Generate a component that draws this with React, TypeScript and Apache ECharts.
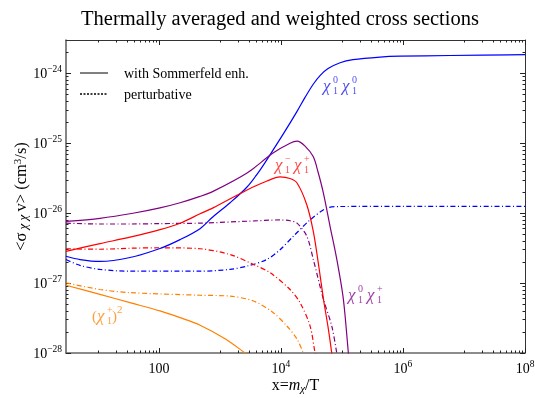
import React, { useEffect, useRef } from "react";
import * as echarts from "echarts";

// axis ranges (data space)
const X_MIN = 3;
const X_MAX = 1e8;
const Y_MIN = 1e-28;
const Y_MAX = 3e-24;

// tick labels
const xMajorTicks = [100, 1e4, 1e6, 1e8];
const yMajorTicks = [1e-28, 1e-27, 1e-26, 1e-25, 1e-24];

// with Sommerfeld enhancement (solid)
const chi0chi0Somm: [number, number][] = [
  [3, 2.42e-27], [5.1, 2.17e-27], [10.8, 2.04e-27], [33.6, 2.32e-27], [104, 3.12e-27], [222, 4.18e-27],
  [472, 6.0e-27], [771, 8.9e-27], [1466, 1.41e-26], [2782, 2.37e-26], [4540, 4.14e-26], [7413, 7.98e-26],
  [11670, 1.49e-25], [18360, 2.86e-25], [24830, 4.53e-25], [33570, 6.93e-25], [43700, 9.3e-25],
  [59200, 1.17e-24], [93100, 1.42e-24], [152000, 1.57e-24], [421000, 1.71e-24], [895000, 1.76e-24],
  [5.9e6, 1.8e-24], [1e8, 1.85e-24],
];
const chi0chiPSomm: [number, number][] = [
  [3, 7.62e-27], [10.8, 8.45e-27], [37.6, 9.97e-27], [104, 1.19e-26], [222, 1.41e-26], [472, 1.74e-26],
  [771, 2.05e-26], [2782, 3.76e-26], [7413, 7.23e-26], [14090, 1.0e-25], [18360, 1.07e-25],
  [24830, 9.1e-26], [33960, 6.4e-26], [40560, 3.88e-26], [49540, 1.95e-26], [63800, 6.5e-27],
  [82200, 2.2e-27], [105400, 5.9e-28], [127400, 1e-28], [135000, 6e-29],
];
const chiMchiPSomm: [number, number][] = [
  [3, 2.85e-27], [10.8, 3.67e-27], [33.6, 4.54e-27], [104, 5.81e-27], [222, 7.18e-27], [472, 9.79e-27],
  [771, 1.19e-26], [2782, 2.15e-26], [5920, 2.89e-26], [9660, 3.3e-26], [14090, 3.13e-26],
  [18360, 2.7e-26], [26500, 1.32e-26], [33960, 5.43e-27], [41980, 1.67e-27], [49540, 6.05e-28],
  [59200, 2.34e-28], [68000, 1e-28], [77000, 4.3e-29],
];
const chiPchiPSomm: [number, number][] = [
  [3, 9.3e-28], [10.8, 6.9e-28], [33.6, 5.25e-28], [104, 4.0e-28], [222, 3.2e-28], [472, 2.5e-28],
  [1213, 1.6e-28], [2580, 1e-28], [3000, 9e-29],
];

// perturbative (dot-dashed)
const chi0chi0Pert: [number, number][] = [
  [3, 2.17e-27], [5.1, 1.79e-27], [10.8, 1.57e-27], [33.6, 1.48e-27], [472, 1.48e-27], [1466, 1.57e-27],
  [2782, 1.75e-27], [5850, 2.17e-27], [9660, 3.0e-27], [15950, 4.67e-27], [30000, 8.0e-27],
  [56400, 1.18e-26], [93100, 1.245e-26], [1e6, 1.25e-26], [1e8, 1.25e-26],
];
const chi0chiPPert: [number, number][] = [
  [3, 7.2e-27], [10.8, 7.0e-27], [33.6, 7.0e-27], [104, 7.1e-27], [472, 7.2e-27], [3100, 7.7e-27],
  [9660, 8.0e-27], [14090, 7.8e-27], [18360, 7.2e-27], [26500, 4.7e-27], [33960, 2.17e-27],
  [49540, 5.9e-28], [68000, 2.44e-28], [82200, 1e-28], [88000, 7e-29],
];
const chiMchiPPert: [number, number][] = [
  [3, 3.1e-27], [10.8, 3.05e-27], [33.6, 3.15e-27], [104, 3.2e-27], [472, 3.1e-27], [1466, 2.56e-27],
  [3530, 1.85e-27], [6620, 1.41e-27], [14100, 8.1e-28], [20550, 5.25e-28], [30000, 2.44e-28],
  [36200, 1e-28], [38000, 8e-29],
];
const chiPchiPPert: [number, number][] = [
  [3, 1.01e-27], [10.8, 8.1e-28], [33.6, 7.3e-28], [472, 6.7e-28], [1466, 6.5e-28], [3530, 5.55e-28],
  [7413, 3.8e-28], [12450, 2.44e-28], [18360, 1.58e-28], [23300, 1e-28], [25000, 9e-29],
];

// curve label anchors (data space, left/middle of label)
const labelChi0Chi0: [number, number] = [49000, 6.8e-25];
const labelChiMChiP: [number, number] = [8000, 5.0e-26];
const labelChi0ChiP: [number, number] = [126000, 6.8e-28];
const labelChiPSq: [number, number] = [8, 3.4e-28];

const BLUE = "#0000ff";
const RED = "#ff0000";
const PURPLE = "#800080";
const ORANGE = "#ff8000";
const FONT = '"Liberation Serif", "DejaVu Serif", serif';

const lg = (v: number) => Math.log10(v);

export default function App() {
  const ref = useRef<HTMLDivElement>(null);
  useEffect(() => {
    if (!ref.current) return;
    const chart = echarts.init(ref.current, undefined, { renderer: "svg" });

    const xLo = lg(X_MIN), xHi = lg(X_MAX), yLo = lg(Y_MIN), yHi = lg(Y_MAX);
    const xMinor: number[] = [];
    [1, 3, 5, 7].forEach((k) => {
      for (let j = 1; j <= 9; j++) {
        const v = k + Math.log10(j);
        if (v > xLo && v < xHi) xMinor.push(v);
      }
    });
    const yMinor: number[] = [];
    for (let n = -28; n <= -24; n++) {
      for (let j = 2; j <= 9; j++) {
        const v = n + Math.log10(j);
        if (v < yHi) yMinor.push(v);
      }
    }
    const xMaj = xMajorTicks.map(lg);
    const yMaj = yMajorTicks.map(lg);

    const rich = {
      b: { fontSize: 14, fontFamily: FONT, color: "#000", lineHeight: 18 },
      s: { fontSize: 9.5, fontFamily: FONT, color: "#000", verticalAlign: "top", lineHeight: 10 },
    };

    const mkX = (pos: "bottom" | "top", major: boolean, labels: boolean) => ({
      type: "value",
      position: pos,
      min: xLo,
      max: xHi,
      gridIndex: 0,
      splitLine: { show: false },
      axisLine: {
        show: major,
        onZero: false,
        lineStyle: pos === "bottom" ? { color: "#666", width: 1.6 } : { color: "#333", width: 1 },
      },
      axisTick: {
        show: true,
        inside: true,
        length: major ? 5 : 2.5,
        customValues: major ? xMaj : xMinor,
        lineStyle: { color: "#222", width: 1 },
      },
      axisLabel: labels
        ? {
            show: true,
            customValues: xMaj,
            margin: 6,
            formatter: (v: number) => {
              const e = Math.round(v);
              return e === 2 ? "{b|100}" : `{b|10}{s|${e}}`;
            },
            rich,
          }
        : { show: false },
      ...(labels
        ? {
            name: "{n|x=}{i|m}{sub|χ}{n|/T}",
            nameLocation: "middle",
            nameGap: 22,
            nameMoveOverlap: false,
            nameTextStyle: {
              rich: {
                n: { fontSize: 16, fontFamily: FONT, color: "#000", lineHeight: 18 },
                i: { fontSize: 16, fontFamily: FONT, fontStyle: "italic", color: "#000", lineHeight: 18 },
                sub: { fontSize: 11, fontFamily: FONT, fontStyle: "italic", color: "#000", verticalAlign: "bottom", lineHeight: 13 },
              },
            },
          }
        : {}),
    });

    const mkY = (pos: "left" | "right", major: boolean, labels: boolean) => ({
      type: "value",
      position: pos,
      min: yLo,
      max: yHi,
      gridIndex: 0,
      splitLine: { show: false },
      axisLine: {
        show: major,
        onZero: false,
        lineStyle: pos === "left" ? { color: "#666", width: 1.6 } : { color: "#333", width: 1 },
      },
      axisTick: {
        show: true,
        inside: true,
        length: major ? 5 : 2.5,
        customValues: major ? yMaj : yMinor,
        lineStyle: { color: "#222", width: 1 },
      },
      axisLabel: labels
        ? {
            show: true,
            customValues: yMaj,
            margin: 4,
            formatter: (v: number) => `{b|10}{s|−${-Math.round(v)}}`,
            rich,
          }
        : { show: false },
      ...(labels
        ? {
            name: "{n|<σ}{sub| χ χ }{n|v> (cm}{sup|3}{n|/s)}",
            nameLocation: "middle",
            nameRotate: 90,
            nameGap: 37,
            nameMoveOverlap: false,
            nameTextStyle: {
              rich: {
                n: { fontSize: 16.5, fontFamily: FONT, color: "#000", lineHeight: 18 },
                sub: { fontSize: 13, fontFamily: FONT, fontStyle: "italic", color: "#000", verticalAlign: "bottom", lineHeight: 15 },
                sup: { fontSize: 11, fontFamily: FONT, color: "#000", verticalAlign: "top", lineHeight: 11 },
              },
            },
          }
        : {}),
    });

    const DD = [5, 2.5, 1, 2.5];
    const mkSeries = (name: string, data: [number, number][], color: string, dashed: boolean) => ({
      type: "line",
      name,
      xAxisIndex: 0,
      yAxisIndex: 0,
      data: data.map(([x, y]) => [lg(x), lg(y)]),
      showSymbol: false,
      symbol: "none",
      smooth: 0.3,
      clip: true,
      lineStyle: { color, width: 1.2, type: dashed ? DD : "solid" },
      z: dashed ? 2 : 3,
    });

    chart.setOption({
      animation: false,
      grid: { left: 66, right: 10, top: 40, bottom: 45, containLabel: false, outerBoundsMode: "none" },
      xAxis: [mkX("bottom", true, true), mkX("bottom", false, false), mkX("top", true, false), mkX("top", false, false)],
      yAxis: [mkY("left", true, true), mkY("left", false, false), mkY("right", true, false), mkY("right", false, false)],
      series: [
        mkSeries("χ0χ0 pert", chi0chi0Pert, BLUE, true),
        mkSeries("χ0χ+ pert", chi0chiPPert, PURPLE, true),
        mkSeries("χ-χ+ pert", chiMchiPPert, RED, true),
        mkSeries("χ+χ+ pert", chiPchiPPert, ORANGE, true),
        mkSeries("χ0χ0", chi0chi0Somm, BLUE, false),
        mkSeries("χ0χ+", chi0chiPSomm, PURPLE, false),
        mkSeries("χ-χ+", chiMchiPSomm, RED, false),
        mkSeries("χ+χ+", chiPchiPSomm, ORANGE, false),
      ],
    });

    const px = (p: [number, number]) =>
      chart.convertToPixel({ gridIndex: 0 }, [lg(p[0]), lg(p[1])]) as number[];

    const txt = (x: number, y: number, text: string, size: number, color: string, italic = false, align = "left") => ({
      type: "text",
      x,
      y,
      silent: true,
      style: {
        text,
        fontSize: size,
        fontFamily: FONT,
        fontStyle: italic ? "italic" : "normal",
        fill: color,
        textAlign: align,
        textVerticalAlign: "middle",
        align,
        verticalAlign: "middle",
      },
    });
    const chi = (x: number, y: number, sup: string, sub: string, color: string) => [
      txt(x, y, "χ", 17, color, true),
      txt(x + 10, y - 6, sup, 10, color),
      txt(x + 10, y + 5, sub, 10, color),
    ];
    const pair = (p: [number, number], s1: string, s2: string, color: string) => {
      const [x, y] = px(p);
      return [...chi(x, y, s1, "1", color), ...chi(x + 19, y, s2, "1", color)];
    };
    const [ox, oy] = px(labelChiPSq);

    chart.setOption({
      graphic: [
        txt(280, 18, "Thermally averaged and weighted cross sections", 20.5, "#000", false, "center"),
        { type: "line", silent: true, shape: { x1: 80, y1: 73, x2: 108, y2: 73 }, style: { stroke: "#000", lineWidth: 1 } },
        { type: "line", silent: true, shape: { x1: 80, y1: 94, x2: 108, y2: 94 }, style: { stroke: "#000", lineWidth: 1.6, lineDash: [2, 1.5] } },
        txt(124, 73, "with Sommerfeld enh.", 14, "#000"),
        txt(124, 94, "perturbative", 14, "#000"),
        ...pair(labelChi0Chi0, "0", "0", "#5050f0"),
        ...pair(labelChiMChiP, "−", "+", "#ff4a4a"),
        ...pair(labelChi0ChiP, "0", "+", "#a040a8"),
        txt(ox, oy, "(", 15, "#ffa040"),
        ...chi(ox + 5, oy, "+", "1", "#ffa040"),
        txt(ox + 20, oy, ")", 15, "#ffa040"),
        txt(ox + 25, oy - 7, "2", 11, "#ffa040"),
      ],
    });

    return () => chart.dispose();
  }, []);
  return <div ref={ref} style={{ position: "fixed", left: 0, top: 0, width: 535, height: 398 }} />;
}
